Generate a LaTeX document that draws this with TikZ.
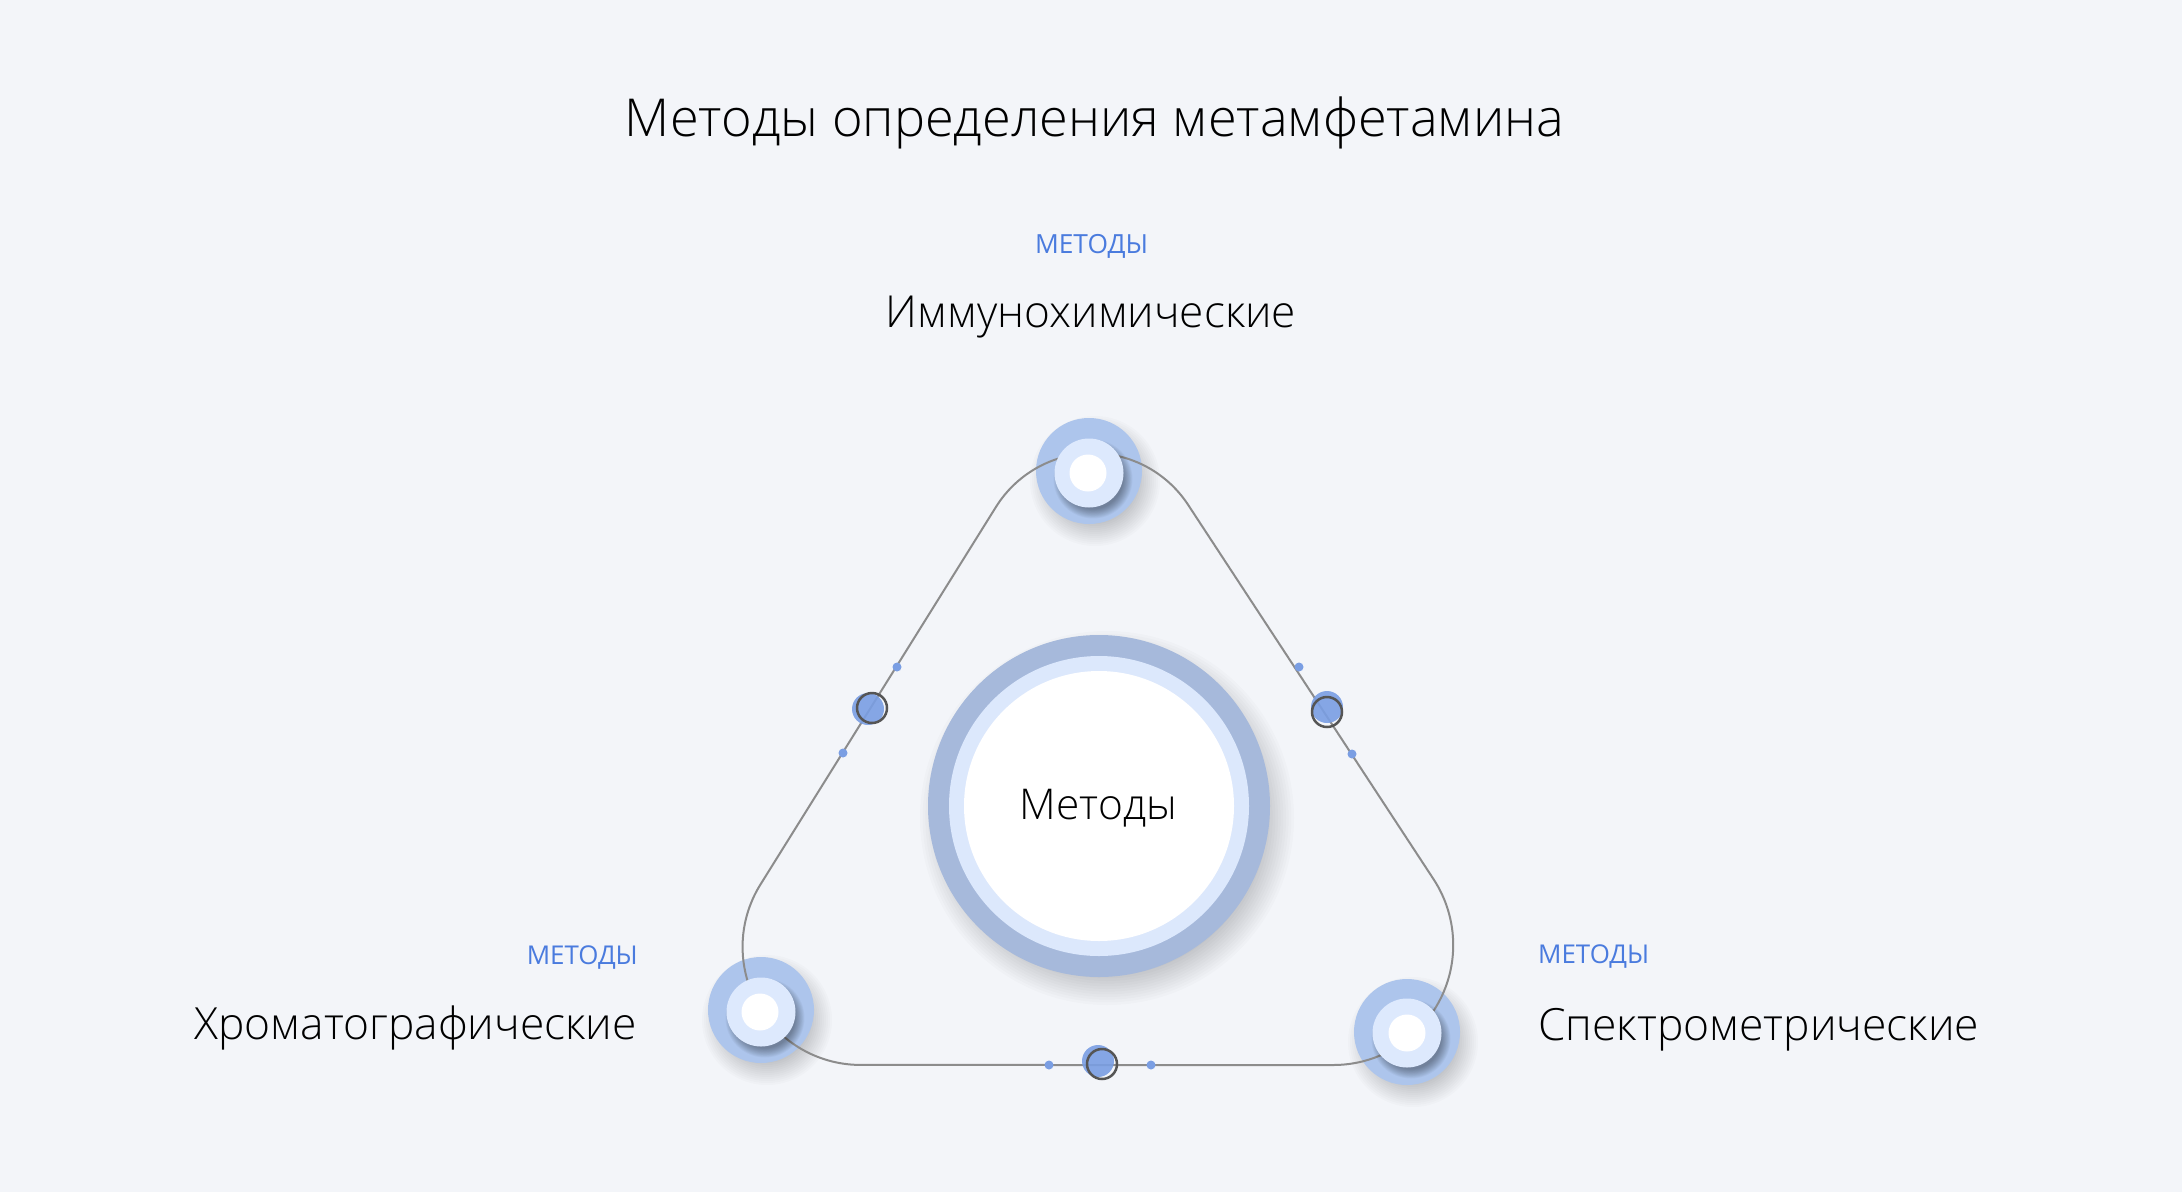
\documentclass[tikz,border=0pt]{standalone}
\usepackage{fontspec}
\setmainfont{Open Sans}[UprightFont={* Light}]
\newfontfamily\subfont{Open Sans}
\definecolor{bg}{HTML}{F3F5F9}
\definecolor{mblue}{HTML}{4A7BDE}
\definecolor{ringA}{HTML}{A6B9DB}
\definecolor{ringB}{HTML}{DCE8FC}
\definecolor{nodeA}{HTML}{ADC5EC}
\definecolor{nodeB}{HTML}{DDE9FD}
\definecolor{linec}{HTML}{8C8C8C}
\definecolor{dotc}{HTML}{7A9EE3}
\definecolor{ringc}{HTML}{555555}
\tikzset{
  conn/.style={draw=linec, line width=2pt},
  outerc/.style={circle, fill=nodeA, inner sep=0pt, minimum size=106pt},
  innerc/.style={circle, fill=nodeB, inner sep=0pt, minimum size=69pt},
  corec/.style={circle, fill=white, inner sep=0pt, minimum size=37pt},
  bigdot/.style={circle, fill=dotc, fill opacity=0.9, inner sep=0pt, minimum size=32pt},
  dotring/.style={circle, draw=ringc, line width=2.5pt, inner sep=0pt, minimum size=30pt},
  smalldot/.style={circle, fill=dotc, inner sep=0pt, minimum size=9pt},
  lbl/.style={inner sep=0pt, text=black},
  sub/.style={inner sep=0pt, text=mblue, font=\subfont},
}
\newcommand{\fitw}[2]{\resizebox{#1pt}{!}{#2}}
% soft shadow: x, y, radius, spread, opacity per layer
\newcommand{\softshadow}[5]{%
  \foreach \k in {0,...,11}{\fill[black, opacity=#5] (#1,#2) circle[radius={#3+#4-#4*\k/6}];}}
\begin{document}
\begin{tikzpicture}[x=1pt, y=-1pt]
\fill[bg] (0,0) rectangle (2182,1192);
\useasboundingbox (0,0) rectangle (2182,1192);

% title
\node[lbl, anchor=base] (title) at (1094.5,136) {\fitw{939}{Методы определения метамфетамина}};

% central circle
\softshadow{1107}{818}{171}{16}{0.016}
\node[circle, fill=ringA, inner sep=0pt, minimum size=342pt] (center) at (1099,806) {};
\node[circle, fill=ringB, inner sep=0pt, minimum size=300pt] (centerB) at (1099,806) {};
\node[circle, fill=white, inner sep=0pt, minimum size=270pt] (centerC) at (1099,806) {};
\node[lbl, anchor=base] (ctext) at (1098.5,819) {\fitw{157}{Методы}};

% outer circles of the three nodes
\softshadow{1095}{481}{53}{12}{0.016}
\softshadow{767}{1020}{53}{12}{0.016}
\softshadow{1413}{1042}{53}{12}{0.016}
\node[outerc] (top) at (1089,471) {};
\node[outerc] (left) at (761,1010) {};
\node[outerc] (right) at (1407,1032) {};

% rounded triangle (tangent points of the rounded corners)
\coordinate (B) at (1100,1065);
\coordinate (brb) at (1333.2,1065);
\coordinate (tr) at (1188.1,504.8);
\coordinate (bls) at (760.5,884.4);
\draw[conn] (B) -- (brb) arc[start angle=90, end angle=-33.2, radius=120]
  -- (tr) arc[start angle=-33.2, end angle=-148, radius=114]
  -- (bls) arc[start angle=212, end angle=90, radius=118] -- cycle;

% inner circles
\softshadow{1093}{479}{34.5}{5}{0.03}
\softshadow{765}{1018}{34.5}{5}{0.03}
\softshadow{1411}{1039}{34.5}{5}{0.03}
\node[innerc] (topB) at (1089,473) {};
\node[corec] (topC) at (1088,473) {};
\node[innerc] (leftB) at (761,1012) {};
\node[corec] (leftC) at (760,1012) {};
\node[innerc] (rightB) at (1407,1033) {};
\node[corec] (rightC) at (1407,1033) {};

% markers on the left side
\node[smalldot] (l1) at (897,667) {};
\node[smalldot] (l2) at (843,753) {};
\node[bigdot] (lm) at (868,709) {};
\node[dotring] (lr) at (872,708) {};
% markers on the right side
\node[smalldot] (r1) at (1299,667) {};
\node[smalldot] (r2) at (1352,754) {};
\node[bigdot] (rm) at (1327,707) {};
\node[dotring] (rr) at (1327,712) {};
% markers on the bottom side
\node[smalldot] (b1) at (1049,1065) {};
\node[smalldot] (b2) at (1151,1065) {};
\node[bigdot] (bm) at (1098,1061) {};
\node[dotring] (br) at (1102,1064) {};

% labels
\node[sub, anchor=base] (topsub) at (1091.5,253) {\fitw{113}{МЕТОДЫ}};
\node[lbl, anchor=base] (toplbl) at (1091,327) {\fitw{410}{Иммунохимические}};
\node[sub, anchor=base east] (leftsub) at (638,964) {\fitw{111}{МЕТОДЫ}};
\node[lbl, anchor=base east] (leftlbl) at (637,1039) {\fitw{442}{Хроматографические}};
\node[sub, anchor=base west] (rightsub) at (1538,963) {\fitw{111}{МЕТОДЫ}};
\node[lbl, anchor=base west] (rightlbl) at (1538,1040) {\fitw{441}{Спектрометрические}};
\end{tikzpicture}
\end{document}
